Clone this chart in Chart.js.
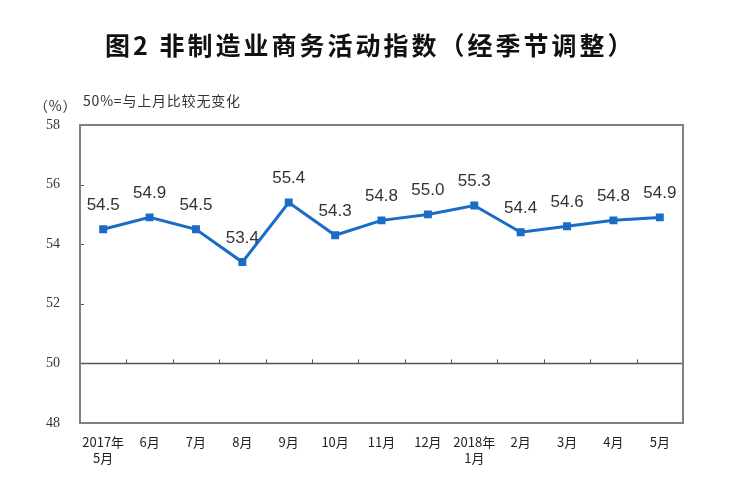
<!DOCTYPE html>
<html>
<head>
<meta charset="utf-8">
<script src="https://cdn.jsdelivr.net/npm/chart.js@4/dist/chart.umd.min.js"></script>
<style>
  html, body { margin:0; padding:0; background:#fff; }
  #wrap { width:750px; height:485px; position:relative; }
</style>
</head>
<body>
<div id="wrap"><canvas id="chart" width="750" height="485"></canvas></div>
<script>
// ----- 数据 -----
const months = [["2017年","5月"],"6月","7月","8月","9月","10月","11月","12月",["2018年","1月"],"2月","3月","4月","5月"];
const values = [54.5,54.9,54.5,53.4,55.4,54.3,54.8,55.0,55.3,54.4,54.6,54.8,54.9];
const yTicks = [48,50,52,54,56,58];

const titleText = "图2 非制造业商务活动指数（经季节调整）";
const unitText = "（%）";
const noteText = "50%=与上月比较无变化";

const cjk = '"Noto Sans CJK SC", "Noto Sans", sans-serif';

// ----- 自定义绘制：标题、边框、50线、数据标签 -----
const decor = {
  id: "decor",
  beforeDatasetsDraw(chart){
    const {ctx, chartArea:a, scales:{x, y}} = chart;
    ctx.save();
    // 50 线
    const y50 = y.getPixelForValue(50);
    ctx.strokeStyle = "#555";
    ctx.lineWidth = 1.5;
    ctx.beginPath();
    ctx.moveTo(a.left, y50); ctx.lineTo(a.right, y50);
    ctx.stroke();
    // 50 线上的刻度
    ctx.lineWidth = 1;
    const step = x.getPixelForValue(1) - x.getPixelForValue(0);
    for(let i=1;i<months.length;i++){
      const px = Math.round(x.getPixelForValue(i) - step/2) + 0.5;
      ctx.beginPath(); ctx.moveTo(px, y50); ctx.lineTo(px, y50-4); ctx.stroke();
    }
    // y 轴内刻度
    yTicks.forEach(v=>{
      const py = Math.round(y.getPixelForValue(v)) + 0.5;
      ctx.beginPath(); ctx.moveTo(a.left, py); ctx.lineTo(a.left+4, py); ctx.stroke();
    });
    // 边框
    ctx.strokeStyle = "#808080";
    ctx.lineWidth = 2;
    ctx.strokeRect(a.left, a.top, a.right-a.left, a.bottom-a.top);
    ctx.restore();
  },
  afterDatasetsDraw(chart){
    const {ctx} = chart;
    const meta = chart.getDatasetMeta(0);
    ctx.save();
    ctx.fillStyle = "#333";
    ctx.font = '17px "Liberation Sans", Arial, sans-serif';
    ctx.textAlign = "center";
    ctx.textBaseline = "middle";
    meta.data.forEach((pt,i)=>{
      ctx.fillText(values[i].toFixed(1), pt.x, pt.y - 24);
    });
    ctx.restore();
  },
  afterDraw(chart){
    const {ctx} = chart;
    ctx.save();
    ctx.fillStyle = "#111";
    ctx.textBaseline = "middle";
    ctx.textAlign = "left";
    ctx.font = "bold 25px " + cjk;
    ctx.letterSpacing = "3px";
    ctx.fillText(titleText, 105, 45);
    ctx.fillStyle = "#333";
    ctx.font = "14px " + cjk;
    ctx.letterSpacing = "0.8px";
    ctx.fillText(unitText, 34, 106);
    ctx.fillText(noteText, 83, 101);
    ctx.restore();
  }
};

new Chart(document.getElementById("chart"),{
  type:"line",
  data:{
    labels: months,
    datasets:[{
      data: values,
      borderColor:"#1b6cc5",
      backgroundColor:"#1b6cc5",
      borderWidth:3,
      pointStyle:"rect",
      pointRadius:3.5,
      pointHoverRadius:3.5,
      tension:0
    }]
  },
  options:{
    responsive:false,
    animation:false,
    layout:{ padding:{ top:125, right:67, bottom:0, left:0 } },
    plugins:{ legend:{display:false}, title:{display:false}, tooltip:{enabled:false} },
    scales:{
      x:{
        offset:true,
        grid:{ display:false, drawTicks:false },
        border:{ display:false },
        ticks:{ padding:11, color:"#222", font:{ family:cjk, size:13, lineHeight:1.25 }, maxRotation:0, autoSkip:false },
        afterFit: s => { s.height = 62; }
      },
      y:{
        min:48, max:58,
        grid:{ display:false, drawTicks:false },
        border:{ display:false },
        afterBuildTicks: s => { s.ticks = yTicks.map(v=>({value:v})); },
        ticks:{ padding:20, color:"#333", font:{ family:'"Liberation Serif", serif', size:14 } },
        afterFit: s => { s.width = 80; }
      }
    }
  },
  plugins:[decor]
});
</script>
</body>
</html>
